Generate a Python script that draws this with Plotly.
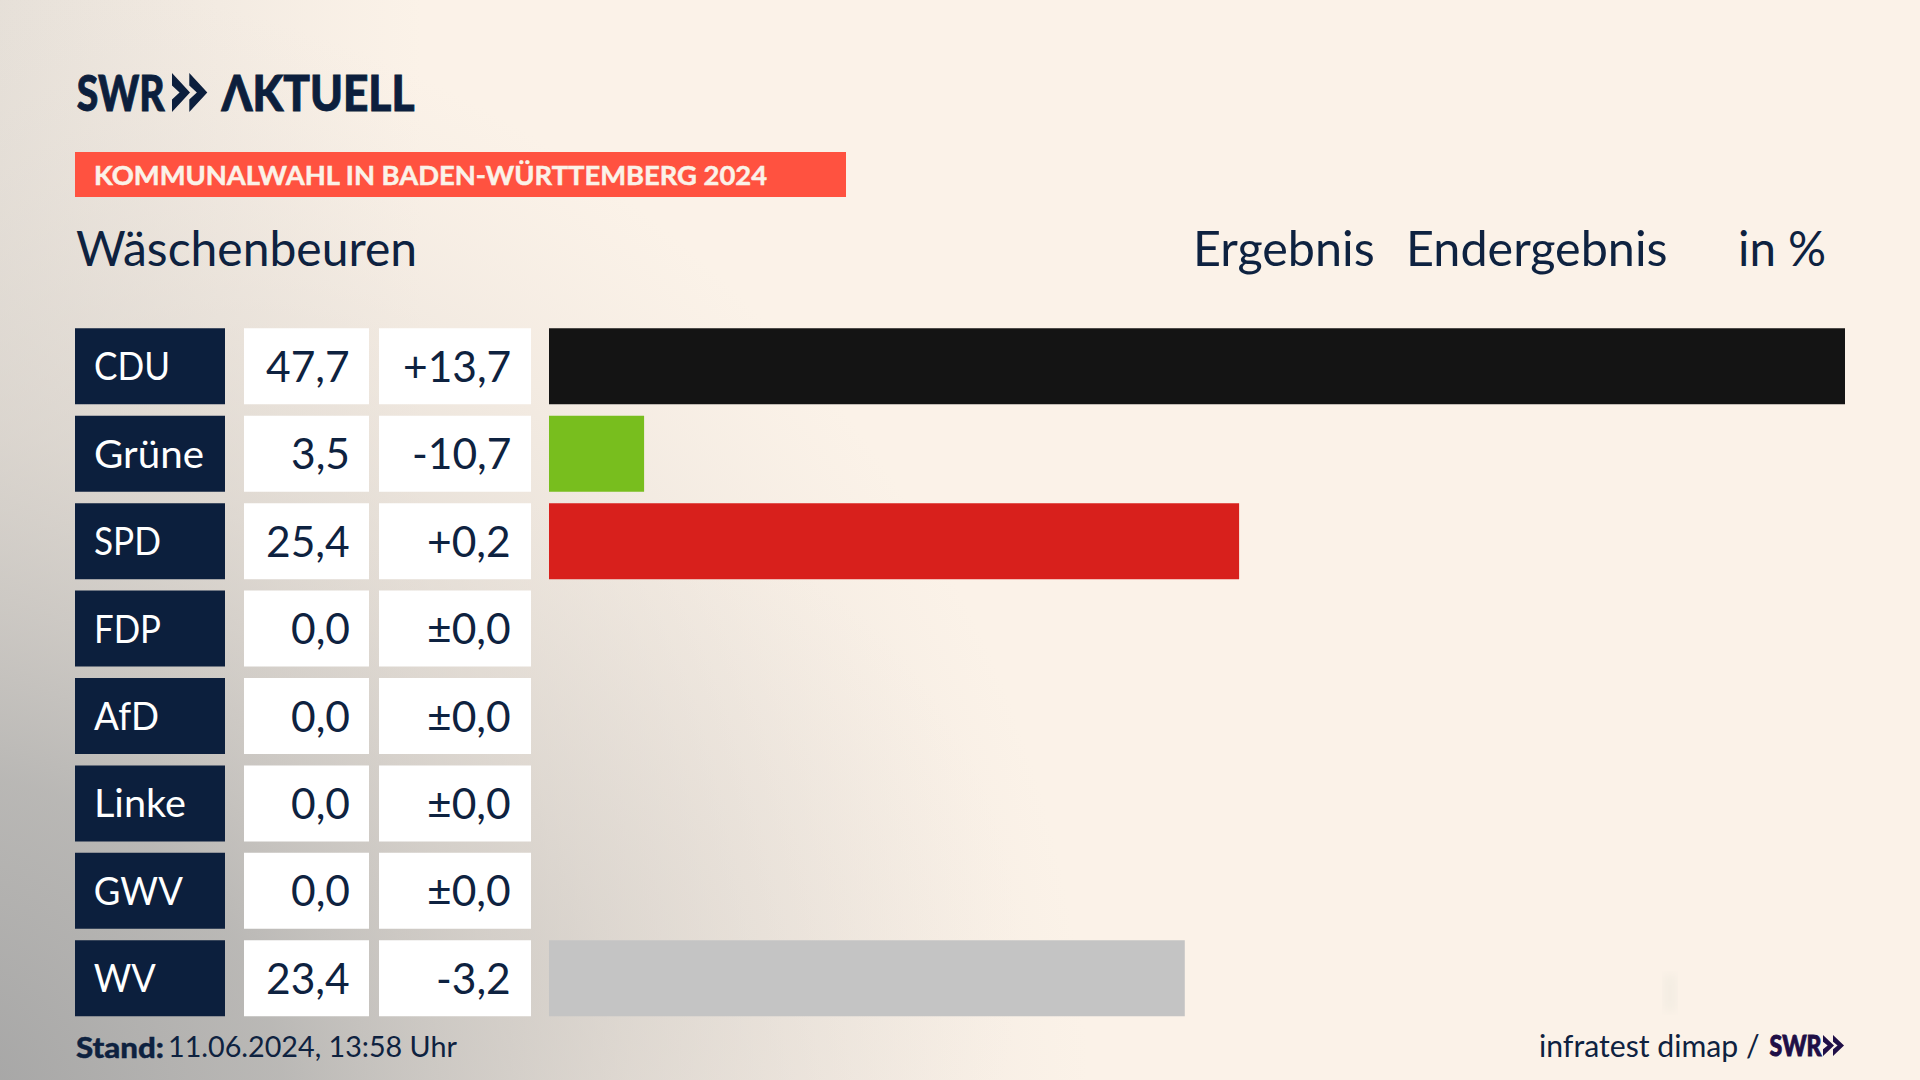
import base64
import json
import plotly.graph_objects as go

# ---- data ----
parties = ["CDU", "Grüne", "SPD", "FDP", "AfD", "Linke", "GWV", "WV"]
results = [47.7, 3.5, 25.4, 0.0, 0.0, 0.0, 0.0, 23.4]
result_labels = ["47,7", "3,5", "25,4", "0,0", "0,0", "0,0", "0,0", "23,4"]
change_labels = ["+13,7", "-10,7", "+0,2", "±0,0", "±0,0", "±0,0", "±0,0", "-3,2"]
bar_colors = ["#141414", "#78BE1E", "#D8201C", "#FFD500", "#0C9FE0", "#B0257E", "#C4C4C4", "#C4C4C4"]

NAVY = "#0C1F3D"
TEXT = "#0E2240"
FONT = "Lato"
W, H = 1920, 1080

def px(x):
    return x / W

def py(y):
    return 1 - y / H

svg = f'''<svg xmlns="http://www.w3.org/2000/svg" width="{W}" height="{H}" viewBox="0 0 {W} {H}">
<defs>
<radialGradient id="a" gradientUnits="userSpaceOnUse" cx="-60" cy="1120" r="1150">
<stop offset="0" stop-color="#a3a3a3" stop-opacity="1"/>
<stop offset="0.3" stop-color="#b4b3b1" stop-opacity="0.9"/>
<stop offset="0.6" stop-color="#d3cec8" stop-opacity="0.6"/>
<stop offset="1" stop-color="#e6dfd8" stop-opacity="0"/>
</radialGradient>
<radialGradient id="c" gradientUnits="userSpaceOnUse" cx="560" cy="960" r="460">
<stop offset="0" stop-color="#ddd6cf" stop-opacity="0.6"/>
<stop offset="1" stop-color="#e6dfd8" stop-opacity="0"/>
</radialGradient>
<linearGradient id="b" x1="0" x2="1" y1="0" y2="0">
<stop offset="0" stop-color="#d8d4ce" stop-opacity="0.6"/>
<stop offset="0.22" stop-color="#e6dfd8" stop-opacity="0"/>
</linearGradient>
<filter id="f"><feGaussianBlur stdDeviation="5"/></filter>
</defs>
<rect width="{W}" height="{H}" fill="#FBF2E8"/>
<rect width="{W}" height="{H}" fill="url(#b)"/>
<rect width="{W}" height="{H}" fill="url(#c)"/>
<rect width="{W}" height="{H}" fill="url(#a)"/>
<rect x="1664" y="975" width="12" height="36" fill="#F3ECE2" filter="url(#f)"/>
</svg>'''
bg_uri = "data:image/svg+xml;base64," + base64.b64encode(svg.encode()).decode()

fig = go.Figure()
fig.add_trace(go.Bar(
    x=results, y=parties, orientation="h",
    marker=dict(color=bar_colors, line=dict(width=0)),
    hoverinfo="skip", showlegend=False,
))

ROW = 87.43
HALF = 38 / ROW
shapes = []
annotations = []
columns = [(75, 225, NAVY), (244, 369, "#FFFFFF"), (379, 531, "#FFFFFF")]
for i, party in enumerate(parties):
    for x0, x1, col in columns:
        shapes.append(dict(type="rect", xref="paper", yref="y", x0=px(x0), x1=px(x1),
                           y0=i - HALF, y1=i + HALF, fillcolor=col, line=dict(width=0), layer="below"))
    annotations.append(dict(xref="paper", yref="y", x=px(92), y=party, text=party, showarrow=False,
                            xanchor="left", yanchor="middle", yshift=1,
                            font=dict(family=FONT, size=38, color="#FFFFFF")))
    annotations.append(dict(xref="paper", yref="y", x=px(352), y=party, text=result_labels[i], showarrow=False,
                            xanchor="right", yanchor="middle", yshift=1,
                            font=dict(family=FONT, size=42.5, color=TEXT)))
    annotations.append(dict(xref="paper", yref="y", x=px(513), y=party, text=change_labels[i], showarrow=False,
                            xanchor="right", yanchor="middle", yshift=1,
                            font=dict(family=FONT, size=42.5, color=TEXT)))

def text(x, y, s, size, color=TEXT, weight=400, anchor="left"):
    annotations.append(dict(xref="paper", yref="paper", x=px(x), y=py(y), text=s, showarrow=False,
                            xanchor=anchor, yanchor="middle",
                            font=dict(family=FONT, size=size, color=color, weight=weight)))

def chevrons(x, y, w, h, pitch, color):
    for k in range(2):
        xo = x + k * pitch
        pts = [(xo, y), (xo + w, y + h / 2), (xo, y + h), (xo, y + 0.68 * h),
               (xo + 0.42 * w, y + h / 2), (xo, y + 0.32 * h)]
        d = "M" + " L".join(f"{px(a):.5f},{py(b):.5f}" for a, b in pts) + " Z"
        shapes.append(dict(type="path", xref="paper", yref="paper", path=d, fillcolor=color, line=dict(width=0)))

# logo
text(75, 92, "SWR", 50, NAVY, 900)
chevrons(172, 73, 18, 39, 17.3, NAVY)
text(219, 92, "ΛKTUELL", 50, NAVY, 900)

# banner
shapes.append(dict(type="rect", xref="paper", yref="paper", x0=px(75), x1=px(846), y0=py(197), y1=py(152),
                   fillcolor="#FF5240", line=dict(width=0)))
text(92, 175, "KOMMUNALWAHL IN BADEN-WÜRTTEMBERG 2024", 27, "#FBF2E8", 700)

# heading row
text(74, 247, "Wäschenbeuren", 48)
text(1191, 247, "Ergebnis", 48.5)
text(1404, 247, "Endergebnis", 48.5)
text(1736, 247, "in %", 47.5)

# footer
text(73.5, 1046, "Stand:", 29, TEXT, 900)
text(166, 1046, "11.06.2024, 13:58 Uhr", 28.7)
text(1537, 1045, "infratest dimap /", 30.2)
text(1767.5, 1045, "SWR", 28, "#1F0F47", 900)
chevrons(1823, 1035, 11, 21, 10, "#1F0F47")

# The original lettering is narrower than the installed fonts: fit these strings to their measured widths
fit_widths = {"ΛKTUELL": 193, "KOMMUNALWAHL IN BADEN-WÜRTTEMBERG 2024": 673, "Stand:": 88,
              "CDU": 76, "Grüne": 110, "SPD": 67, "FDP": 67, "AfD": 65, "Linke": 92, "GWV": 89, "WV": 62}
heavy = {"SWR": 0.9, "ΛKTUELL": 0.9, "KOMMUNALWAHL IN BADEN-WÜRTTEMBERG 2024": 0.5, "Stand:": 0.4}

fig.update_layout(
    width=W, height=H,
    margin=dict(l=0, r=0, t=0, b=0, pad=0),
    paper_bgcolor="#FBF2E8",
    plot_bgcolor="rgba(0,0,0,0)",
    barmode="overlay",
    bargap=1 - 76 / ROW,
    xaxis=dict(domain=[px(549), px(1845)], range=[0, 47.7], visible=False, fixedrange=True),
    yaxis=dict(domain=[py(1022), py(322.6)], autorange="reversed", type="category",
               visible=False, fixedrange=True),
    images=[dict(source=bg_uri, xref="paper", yref="paper", x=0, y=1, sizex=1, sizey=1,
                 xanchor="left", yanchor="top", sizing="stretch", layer="below")],
    shapes=shapes,
    annotations=annotations,
)

post = """
document.body.style.margin='0';document.body.style.overflow='hidden';
var fit = %s, heavy = %s;
document.querySelectorAll('text.annotation-text').forEach(function(t){
  var s = t.getAttribute('data-unformatted');
  var w = fit[s];
  if (s === 'SWR') { w = parseFloat(t.style.fontSize) > 40 ? 88 : 52; }
  if (w) {
    var box = t.getBBox();
    var x = parseFloat(t.getAttribute('x'));
    t.setAttribute('text-anchor', 'start');
    t.setAttribute('x', x - box.width / 2);
    t.setAttribute('textLength', w);
    t.setAttribute('lengthAdjust', 'spacingAndGlyphs');
  }
  if (heavy[s]) {
    t.style.stroke = t.style.fill;
    t.style.strokeWidth = heavy[s] + 'px';
  }
});
""" % (json.dumps(fit_widths, ensure_ascii=False), json.dumps(heavy, ensure_ascii=False))

fig.write_html("out.html", config={"displayModeBar": False}, post_script=post)
